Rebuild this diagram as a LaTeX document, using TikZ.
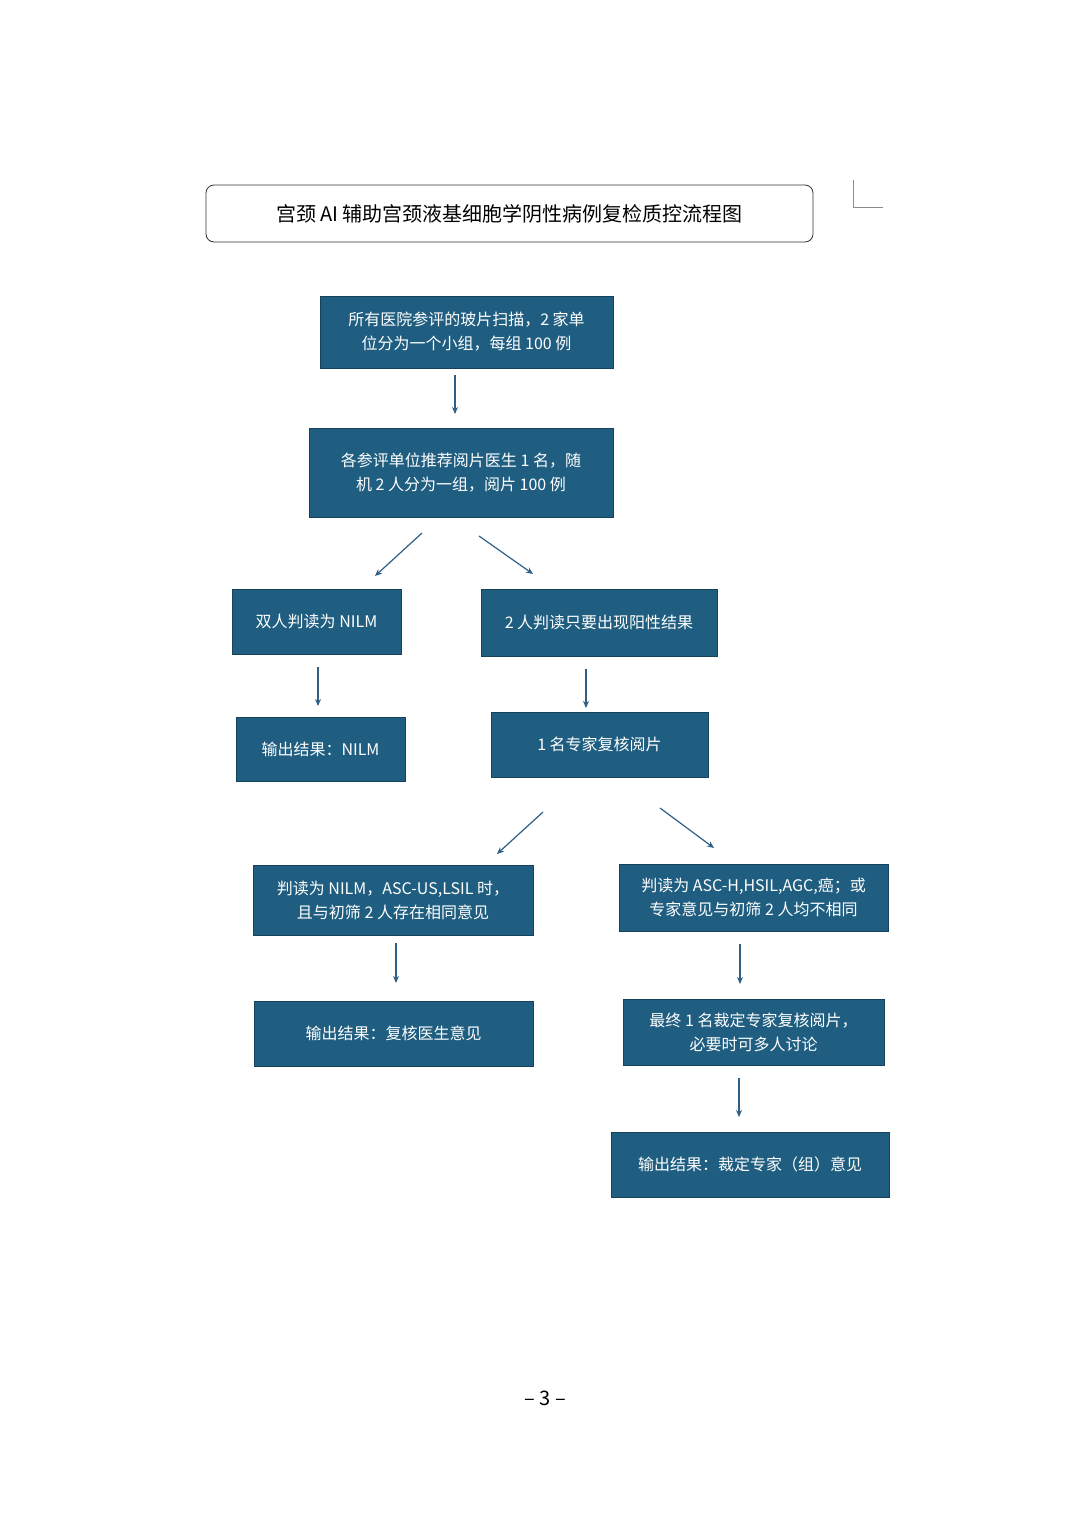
\documentclass[tikz,border=0pt]{standalone}
\usepackage{fontspec}
\setmainfont{Noto Sans CJK SC}
\usetikzlibrary{arrows.meta}
\definecolor{boxc}{HTML}{1F5E80}
\definecolor{arrc}{HTML}{2E5F86}
\begin{document}
\begin{tikzpicture}[x=1pt,y=-1pt,
  box/.style={draw=boxc!70!black,fill=boxc,text=white,font=\fontsize{16}{24}\selectfont,align=center,inner sep=0pt},
  arr/.style={draw=arrc,line width=1.2pt,-{Stealth[length=7pt,width=6pt]}}]
\useasboundingbox[fill=white] (0,0) rectangle (1080,1527);
\newcommand{\bx}[6]{\node[box,minimum width=#4-#2,minimum height=#5-#3] (#1) at ({(#2+#4)/2},{(#3+#5)/2}) {#6};}
\node[draw=black!80,rounded corners=8pt,line width=0.8pt,minimum width=607pt,minimum height=57pt,font=\fontsize{20}{24}\selectfont] (title) at (509.5,213.5) {宫颈 AI 辅助宫颈液基细胞学阴性病例复检质控流程图};
\draw[black!45,line width=0.8pt] (853,180) -- (853,207) -- (883,207);
\bx{b1}{320}{296}{613}{368}{所有医院参评的玻片扫描，2 家单\\位分为一个小组，每组 100 例}
\bx{b2}{309}{428}{613}{517}{各参评单位推荐阅片医生 1 名，随\\机 2 人分为一组，阅片 100 例}
\bx{b3}{232}{589}{401}{654}{双人判读为 NILM}
\bx{b4}{481}{589}{717}{656}{2 人判读只要出现阳性结果}
\bx{b5}{236}{717}{405}{781}{输出结果：NILM}
\bx{b6}{491}{712}{708}{777}{1 名专家复核阅片}
\bx{b7}{253}{865}{533}{935}{判读为 NILM，ASC-US,LSIL 时，\\且与初筛 2 人存在相同意见}
\bx{b8}{619}{864}{888}{931}{判读为 ASC-H,HSIL,AGC,癌；或\\专家意见与初筛 2 人均不相同}
\bx{b9}{254}{1001}{533}{1066}{输出结果：复核医生意见}
\bx{b10}{623}{999}{884}{1065}{最终 1 名裁定专家复核阅片，\\必要时可多人讨论}
\bx{b11}{611}{1132}{889}{1197}{输出结果：裁定专家（组）意见}
\coordinate (a1s) at (455,375); \coordinate (a1e) at (455,414);
\coordinate (a2s) at (422,533); \coordinate (a2e) at (375,576);
\coordinate (a3s) at (479,536); \coordinate (a3e) at (533,574);
\coordinate (a4s) at (318,667); \coordinate (a4e) at (318,706);
\coordinate (a5s) at (586,669); \coordinate (a5e) at (586,708);
\coordinate (a6s) at (543,812); \coordinate (a6e) at (497,854);
\coordinate (a7s) at (660,808); \coordinate (a7e) at (714,848);
\coordinate (a8s) at (396,943); \coordinate (a8e) at (396,983);
\coordinate (a9s) at (740,944); \coordinate (a9e) at (740,984);
\coordinate (a10s) at (739,1078); \coordinate (a10e) at (739,1117);
\foreach \i in {1,...,10} {\draw[arr] (a\i s) -- (a\i e);}
\node[font=\fontsize{20}{24}\selectfont] (pg) at (545,1398) {– 3 –};
\end{tikzpicture}
\end{document}
